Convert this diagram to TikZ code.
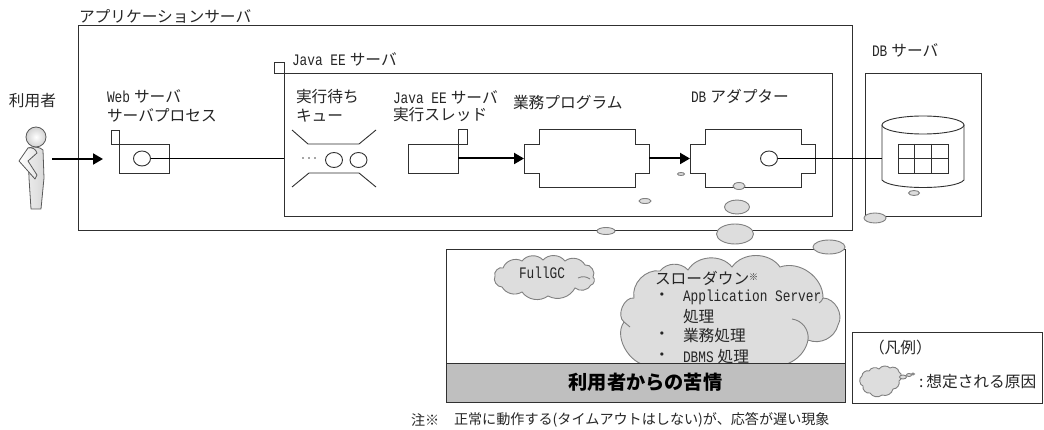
\documentclass[tikz,border=0pt]{standalone}
\usepackage{fontspec}
\setmainfont{Noto Sans CJK JP}
\newfontfamily\lat[FakeStretch=0.8]{Liberation Mono}
\newcommand{\latin}[1]{{\lat\fontsize{16}{17}\selectfont #1}}
\usetikzlibrary{arrows.meta,shapes.geometric}
\definecolor{cloudfill}{HTML}{DDDDDD}
\definecolor{cloudline}{HTML}{808080}
\definecolor{bandfill}{HTML}{BFBFBF}
\definecolor{boxline}{HTML}{303030}
\tikzset{
  lbl/.style={anchor=west,inner sep=0pt,outer sep=0pt,font=\fontsize{15.7}{16}\selectfont,text=black!85},
  smalllbl/.style={anchor=west,inner sep=0pt,outer sep=0pt,font=\fontsize{14.1}{15}\selectfont,text=black!85},
  boxn/.style={draw=boxline,line width=0.9pt,fill=white,rectangle,inner sep=0pt,outer sep=0pt},
  ringn/.style={draw=boxline,line width=0.9pt,fill=white,ellipse,inner sep=0pt,outer sep=0pt,minimum width=17pt,minimum height=15pt},
  blob/.style={draw=cloudline,line width=0.9pt,fill=cloudfill,ellipse,inner sep=0pt,outer sep=0pt},
  cloudp/.style={draw=cloudline,line width=0.9pt,fill=cloudfill},
  cloudt/.style={draw=cloudline,line width=0.9pt},
  shapeline/.style={draw=boxline,line width=0.9pt},
  thinlink/.style={draw=black,line width=0.8pt},
  boldlink/.style={draw=black,line width=2pt,-{Triangle[length=10pt,width=11pt]}},
}
\begin{document}
\begin{tikzpicture}[x=1pt,y=-1pt]
\useasboundingbox (0,0) rectangle (1044,430);
% outer boxes
\node[boxn,minimum width=774pt,minimum height=205pt] (appbox) at (465.5,127.5) {};
\node[boxn,minimum width=548pt,minimum height=143pt] (javabox) at (558,144.5) {};
\node[boxn,minimum width=10pt,minimum height=11pt] (javatab) at (279,67.5) {};
\node[boxn,minimum width=116pt,minimum height=143pt] (dbbox) at (923,144.5) {};
% web server
\node[boxn,minimum width=50pt,minimum height=29pt] (webbox) at (144,158.5) {};
\node[boxn,minimum width=8pt,minimum height=14pt] (webtab) at (115,137) {};
\node[ringn] (webring) at (142,158.5) {};
% queue
\draw[shapeline] (292,130) -- (308,144) -- (359,144) -- (376,130);
\draw[shapeline] (292,187) -- (309,173) -- (359,173) -- (376,187);
\node[ringn] (q1) at (334,160) {};
\node[ringn] (q2) at (358.5,160) {};
\fill[black!70] (303,158) circle (0.9pt) (309,158) circle (0.9pt) (315,158) circle (0.9pt);
% thread
\node[boxn,minimum width=50pt,minimum height=29pt] (thread) at (433,158.5) {};
\draw[shapeline] (458,144) -- (458,129) -- (467,129) -- (467,144) -- cycle;
% program
\draw[shapeline,fill=white] (524,144) -- (539,144) -- (539,129) -- (635,129) -- (635,144) -- (649,144) -- (649,173) -- (635,173) -- (635,187) -- (539,187) -- (539,173) -- (524,173) -- cycle;
\coordinate (progw) at (524,158.5);
\coordinate (proge) at (649,158.5);
% adapter
\draw[shapeline,fill=white] (690,144) -- (705,144) -- (705,129) -- (801,129) -- (801,144) -- (815,144) -- (815,173) -- (801,173) -- (801,187) -- (705,187) -- (705,173) -- (690,173) -- cycle;
\coordinate (adaptw) at (690,158.5);
\node[ringn] (adaptring) at (769,158.5) {};
% cylinder
\draw[shapeline,fill=white] (882,125) -- (882,180) .. controls (890,190) and (956,190) .. (964,180) -- (964,125);
\node[draw=boxline,line width=0.9pt,fill=white,ellipse,inner sep=0pt,outer sep=0pt,minimum width=82pt,minimum height=18pt] (cyltop) at (923,125) {};
\coordinate (cylw) at (882,158.5);
\node[boxn,minimum width=50pt,minimum height=29pt] (grid) at (923,158.5) {};
\draw[shapeline] (grid.west) -- (grid.east);
\draw[shapeline] (914.7,144) -- (914.7,173) (931.3,144) -- (931.3,173);
% connectors
\draw[thinlink] (webring.east) -- (webring.east -| javabox.west);
\draw[thinlink] (adaptring.east) -- (cylw);
\coordinate (userout) at (52,159);
\coordinate (webin) at (103,159);
\draw[boldlink] (userout) -- (webin);
\draw[boldlink] (thread.east) -- (progw);
\draw[boldlink] (proge) -- (adaptw);
% person
\draw[black!65,line width=0.8pt,left color=black!8,middle color=white,right color=black!15,line join=round]
  (28,148) .. controls (34,146) and (40,147) .. (43,150) -- (44,178) -- (41,209) -- (31,209) -- (29,178) -- cycle;
\draw[black!65,line width=0.8pt,left color=white,right color=black!10,line join=round]
  (28,148) -- (19,161) -- (35,179) -- (37,175) -- (28,161) -- (37,153) .. controls (36,149) and (32,147) .. (28,148) -- cycle;
\node[draw=black!65,line width=0.8pt,circle,minimum size=20pt,inner sep=0pt,shading=radial,inner color=white,outer color=black!18] (head) at (36,137) {};
% complaint box
\node[boxn,minimum width=399pt,minimum height=153pt] (complaint) at (645.5,325.5) {};
% clouds
\draw[cloudp] (495,276) to[bend left=70] (503,268) to[bend left=50] (522,261) to[bend left=50] (543,260) to[bend left=50] (565,261) to[bend left=50] (585,265) to[bend left=70] (593,277) to[bend left=70] (591,285) to[bend left=50] (575,288) to[bend left=45] (548,296) to[bend left=45] (522,292) to[bend left=45] (502,287) to[bend left=60] (495,276) -- cycle;
\draw[cloudt] (578,278) to[bend left=30] (590,279);
\draw[cloudp] (624,322) to[bend left=75] (634,298) to[bend left=55] (660,271) to[bend left=50] (688,270) to[bend left=55] (732,267) to[bend left=55] (780,267) to[bend left=55] (823,298) to[bend left=60] (838,325) to[bend left=50] (808,340) to[bend left=50] (765,364) -- (765,372) -- (653,372) -- (653,365) to[bend left=70] (624,322) -- cycle;
\draw[cloudt] (792,319) to[bend left=45] (808,340);
\draw[cloudt] (823,298) to[bend left=20] (819,303);
\draw[cloudt] (624,322) -- (630,327);
% band
\node[draw=boxline,line width=0.9pt,fill=bandfill,rectangle,inner sep=0pt,outer sep=0pt,minimum width=399pt,minimum height=39pt,font=\fontsize{19.2}{20}\selectfont\bfseries,text=black] (band) at (645.5,382.5) {利用者からの苦情};
% bubbles
\node[blob,minimum width=7pt,minimum height=3pt] (b1) at (681,174) {};
\node[blob,minimum width=12pt,minimum height=5pt] (b2) at (645,201) {};
\node[blob,minimum width=18pt,minimum height=7pt] (b3) at (606,231) {};
\node[blob,minimum width=12pt,minimum height=7pt] (b4) at (739,186) {};
\node[blob,minimum width=25pt,minimum height=14pt] (b5) at (737,207) {};
\node[blob,minimum width=37pt,minimum height=20pt] (b6) at (735,234) {};
\node[blob,minimum width=32pt,minimum height=14pt] (b7) at (829,247) {};
\node[blob,minimum width=11pt,minimum height=5pt] (b8) at (914,193) {};
\node[blob,minimum width=22pt,minimum height=10pt] (b9) at (875,218) {};
% legend
\node[boxn,minimum width=190pt,minimum height=71pt] (legend) at (947,367.5) {};
\draw[cloudp] (863,386) to[bend left=70] (862,376) to[bend left=55] (869,371) to[bend left=50] (879,369) to[bend left=50] (890,368) to[bend left=60] (899,372) to[bend left=70] (899,381) to[bend left=55] (893,389) to[bend left=50] (882,395) to[bend left=50] (870,393) to[bend left=60] (863,386) -- cycle;
\node[blob,minimum width=7pt,minimum height=4pt] (l1) at (903,377) {};
\node[blob,minimum width=5pt,minimum height=3pt] (l2) at (909,375) {};
\node[blob,minimum width=3pt,minimum height=2pt] (l3) at (913,374) {};
% labels
\node[lbl] (t1) at (79,16) {アプリケーションサーバ};
\node[lbl] (t2) at (292,59) {\latin{Java EE}\hspace{4pt}サーバ};
\node[lbl] (t3) at (9,101) {利用者};
\node[lbl] (t4) at (107,96) {\latin{Web}\hspace{4pt}サーバ};
\node[lbl] (t5) at (107,115) {サーバプロセス};
\node[lbl] (t6) at (296,97) {実行待ち};
\node[lbl] (t7) at (296,116) {キュー};
\node[lbl] (t8) at (393,97) {\latin{Java EE}\hspace{4pt}サーバ};
\node[lbl] (t9) at (393,115) {実行スレッド};
\node[lbl] (t10) at (513,103) {業務プログラム};
\node[lbl] (t11) at (691,96) {\latin{DB}\hspace{4pt}アダプター};
\node[lbl] (t12) at (872,50) {\latin{DB}\hspace{4pt}サーバ};
\node[lbl] (t13) at (519,273) {\latin{FullGC}};
\node[lbl] (t14) at (655,278) {スローダウン\raisebox{4pt}{\fontsize{9}{10}\selectfont ※}};
\node[lbl] (t15) at (654,297) {・};
\node[lbl] (t16) at (683,297) {\latin{Application Server}};
\node[lbl] (t17) at (683,317) {処理};
\node[lbl] (t18) at (654,336) {・};
\node[lbl] (t19) at (683,336) {業務処理};
\node[lbl] (t20) at (654,357) {・};
\node[lbl] (t21) at (683,357) {\latin{DBMS}\hspace{4pt}処理};
\node[smalllbl] (t22) at (411,420) {注※};
\node[smalllbl] (t23) at (454,420) {正常に動作する(タイムアウトはしない)が、応答が遅い現象};
\node[lbl] (t24) at (869,348) {（凡例）};
\node[lbl] (t25) at (919,382) {:\hspace{3pt}想定される原因};
\end{tikzpicture}
\end{document}
